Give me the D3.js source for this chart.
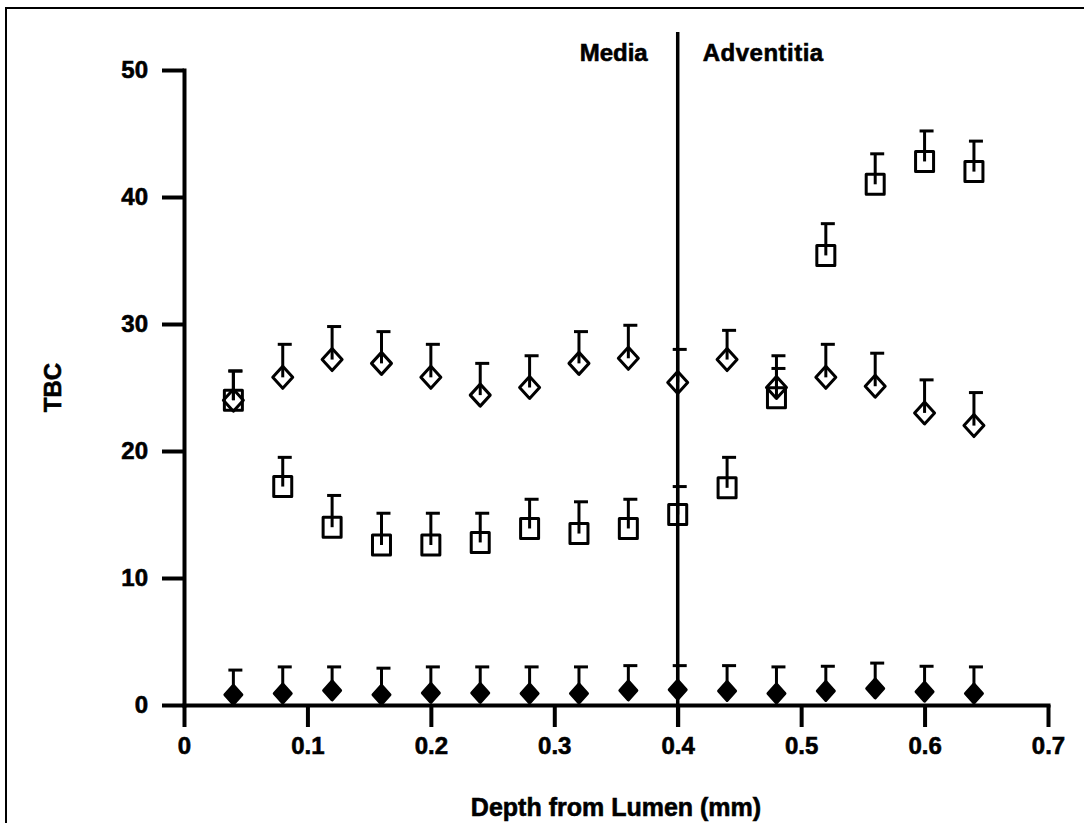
<!DOCTYPE html>
<html>
<head>
<meta charset="utf-8">
<script src="https://cdn.jsdelivr.net/npm/d3@7"></script>
<style>
  body { margin: 0; background: #fff; }
  text { font-family: "Liberation Sans", Arial, sans-serif; font-weight: bold; fill: #000; stroke: #000; stroke-width: 0.6px; }
</style>
</head>
<body>
<div id="wrapper"></div>
<script>
const depth = [0.04, 0.08, 0.12, 0.16, 0.20, 0.24, 0.28, 0.32, 0.36, 0.40, 0.44, 0.48, 0.52, 0.56, 0.60, 0.64]

const openDiamond    = [24.0, 25.8, 27.2, 26.9, 25.8, 24.4, 25.0, 26.9, 27.3, 25.4, 27.2, 25.0, 25.8, 25.1, 23.0, 22.0]
const openDiamondErr = [2.3, 2.6, 2.6, 2.5, 2.6, 2.5, 2.5, 2.5, 2.6, 2.6, 2.3, 2.5, 2.6, 2.6, 2.6, 2.6]

const openSquare    = [24.0, 17.2, 14.0, 12.6, 12.6, 12.8, 13.9, 13.5, 13.9, 15.0, 17.1, 24.2, 35.4, 41.0, 42.8, 42.0]
const openSquareErr = [2.3, 2.3, 2.5, 2.5, 2.5, 2.3, 2.3, 2.5, 2.3, 2.2, 2.4, 2.3, 2.5, 2.4, 2.4, 2.4]

const filledDiamond    = [0.8, 0.9, 1.15, 0.8, 0.95, 0.95, 0.9, 0.9, 1.15, 1.2, 1.1, 0.9, 1.1, 1.3, 1.05, 0.9]
const filledDiamondErr = [1.95, 2.1, 1.85, 2.1, 2.05, 2.05, 2.1, 2.1, 1.95, 1.9, 2.0, 2.1, 1.95, 2.0, 2.0, 2.1]

const xTicks = [0, 0.1, 0.2, 0.3, 0.4, 0.5, 0.6, 0.7]
const yTicks = [0, 10, 20, 30, 40, 50]
const boundary = 0.4

const dimensions = {
  width: 1084,
  height: 823,
  margin: { top: 70, right: 36, bottom: 118, left: 184 }
}
dimensions.boundedWidth = dimensions.width - dimensions.margin.left - dimensions.margin.right
dimensions.boundedHeight = dimensions.height - dimensions.margin.top - dimensions.margin.bottom

const xScale = d3.scaleLinear().domain([0, 0.7]).range([0, dimensions.boundedWidth])
const yScale = d3.scaleLinear().domain([0, 50]).range([dimensions.boundedHeight, 0])

const svg = d3.select("#wrapper")
  .append("svg")
  .attr("width", dimensions.width)
  .attr("height", dimensions.height)

// frame (only top and left edges show in the picture)
svg.append("path")
  .attr("d", `M6,${dimensions.height} V8 H${dimensions.width}`)
  .attr("fill", "none")
  .attr("stroke", "#000")
  .attr("stroke-width", 2)

const bounds = svg.append("g")
  .attr("transform", `translate(${dimensions.margin.left},${dimensions.margin.top})`)

const xAxis = bounds.append("g")
  .attr("transform", `translate(0,${dimensions.boundedHeight})`)
  .call(d3.axisBottom(xScale).tickValues(xTicks).tickFormat(d => d === 0 ? "0" : d3.format(".1f")(d))
    .tickSize(22).tickSizeOuter(0).tickPadding(10))

const yAxis = bounds.append("g")
  .call(d3.axisLeft(yScale).tickValues(yTicks).tickFormat(d3.format("d"))
    .tickSize(22).tickSizeOuter(0).tickPadding(14))

;[xAxis, yAxis].forEach(ax => {
  ax.select(".domain").attr("stroke-width", 4).attr("stroke-linecap", "square")
  ax.selectAll(".tick line").attr("stroke-width", 4)
  ax.selectAll(".tick text").style("font-size", "24px").style("font-family", "Liberation Sans, Arial, sans-serif").style("font-weight", "bold")
})

// Media / Adventitia boundary
bounds.append("line")
  .attr("x1", xScale(boundary)).attr("x2", xScale(boundary))
  .attr("y1", -38).attr("y2", dimensions.boundedHeight + 22)
  .attr("stroke", "#000")
  .attr("stroke-width", 3.5)

bounds.append("text")
  .attr("x", xScale(boundary) - 30).attr("y", -9)
  .attr("text-anchor", "end")
  .style("font-size", "24px")
  .text("Media")

bounds.append("text")
  .attr("x", xScale(boundary) + 25).attr("y", -9)
  .attr("text-anchor", "start")
  .style("font-size", "24px")
  .style("letter-spacing", "0.5px")
  .text("Adventitia")

// axis titles
svg.append("text")
  .attr("x", dimensions.margin.left + dimensions.boundedWidth / 2)
  .attr("y", 816)
  .attr("text-anchor", "middle")
  .style("font-size", "25px")
  .text("Depth from Lumen (mm)")

svg.append("text")
  .attr("transform", `translate(61,${dimensions.margin.top + dimensions.boundedHeight / 2}) rotate(-90)`)
  .attr("text-anchor", "middle")
  .style("font-size", "24px")
  .text("TBC")

const series = [
  { values: openSquare, errors: openSquareErr, shape: "square" },
  { values: openDiamond, errors: openDiamondErr, shape: "diamond" },
  { values: filledDiamond, errors: filledDiamondErr, shape: "filled" }
]

const markerPath = shape => {
  if (shape === "square") return "M-9,-10H9V10H-9Z"
  if (shape === "diamond") return "M0,-11L10,0L0,11L-10,0Z"
  return "M0,-9.5L8.5,0L0,9.5L-8.5,0Z"
}

series.forEach(s => {
  const g = bounds.append("g")
  const points = depth.map((d, i) => ({ x: d, y: s.values[i], e: s.errors[i] }))

  g.selectAll("path.marker")
    .data(points)
    .join("path")
    .attr("class", "marker")
    .attr("transform", d => `translate(${xScale(d.x)},${yScale(d.y)})`)
    .attr("d", markerPath(s.shape))
    .attr("fill", s.shape === "filled" ? "#000" : "none")
    .attr("stroke", "#000")
    .attr("stroke-width", 3)
    .attr("stroke-linejoin", "round")

  g.selectAll("line.err")
    .data(points)
    .join("line")
    .attr("class", "err")
    .attr("x1", d => xScale(d.x)).attr("x2", d => xScale(d.x))
    .attr("y1", d => yScale(d.y)).attr("y2", d => yScale(d.y + d.e))
    .attr("stroke", "#000")
    .attr("stroke-width", 3)

  g.selectAll("line.cap")
    .data(points)
    .join("line")
    .attr("class", "cap")
    .attr("x1", d => xScale(d.x) - 5).attr("x2", d => xScale(d.x) + 9)
    .attr("y1", d => yScale(d.y + d.e)).attr("y2", d => yScale(d.y + d.e))
    .attr("stroke", "#000")
    .attr("stroke-width", 3)
})
</script>
</body>
</html>
